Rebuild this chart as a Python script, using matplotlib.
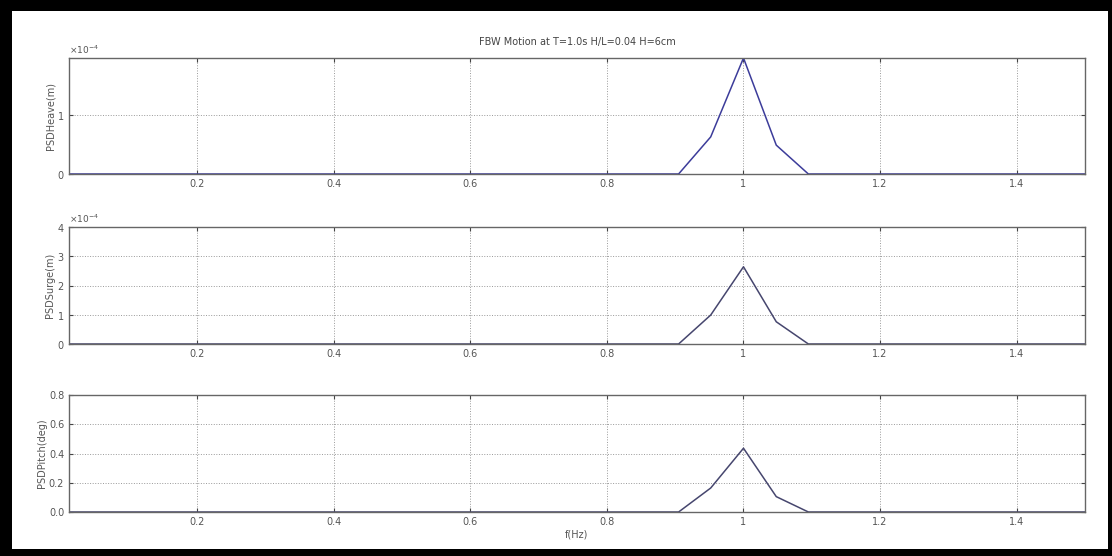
import matplotlib.pyplot as plt
from matplotlib.patches import Rectangle

# frequency points (Hz) and PSD values
freq = [0.0125, 0.905, 0.952, 1.0, 1.048, 1.095, 1.5]
heave = [0, 0, 0.63e-4, 1.97e-4, 0.49e-4, 0, 0]
surge = [0, 0, 0.99e-4, 2.64e-4, 0.76e-4, 0, 0]
pitch = [0, 0, 0.164, 0.436, 0.105, 0, 0]

xticks = [0.2, 0.4, 0.6, 0.8, 1.0, 1.2, 1.4]
xticklabels = ['0.2', '0.4', '0.6', '0.8', '1', '1.2', '1.4']

W, H = 1112, 556
fig = plt.figure(figsize=(W / 100, H / 100), dpi=100, facecolor='black')
# white page inside the black frame
fig.patches.append(Rectangle((12 / W, 7 / H), (1108 - 12) / W, (556 - 7 - 11) / H,
                             transform=fig.transFigure, facecolor='white',
                             edgecolor='none', zorder=-10))

def px_axes(top, bottom):
    return fig.add_axes([69 / W, (H - bottom) / H, (1085 - 69) / W, (bottom - top) / H])

panels = [
    (58, 174, heave, 'PSDHeave(m)', [0, 1e-4], 1.97e-4, '#3c3c9a', True),
    (227, 344, surge, 'PSDSurge(m)', [0, 1e-4, 2e-4, 3e-4, 4e-4], 4e-4, '#46466e', True),
    (395, 512, pitch, 'PSDPitch(deg)', [0, 0.2, 0.4, 0.6, 0.8], 0.8, '#46466e', False),
]

for top, bottom, vals, label, yt, ymax, color, sci in panels:
    ax = px_axes(top, bottom)
    ax.set_zorder(1)
    ax.plot(freq, vals, color=color, lw=1.1)
    ax.set_xlim(0.0125, 1.5)
    ax.set_ylim(0, ymax)
    ax.set_xticks(xticks)
    ax.set_xticklabels(xticklabels)
    ax.set_yticks(yt)
    if sci:
        ax.ticklabel_format(axis='y', style='sci', scilimits=(0, 0), useMathText=True)
        ax.yaxis.get_offset_text().set_fontsize(6.5)
        ax.yaxis.get_offset_text().set_color('#555555')
    ax.grid(True, linestyle=':', color='#999999', lw=0.7)
    ax.tick_params(direction='in', top=True, right=True, labelsize=7,
                   labelcolor='#555555', color='#444444', length=3)
    for s in ax.spines.values():
        s.set_color('#666666')
        s.set_linewidth(1.0)
    ax.set_ylabel(label, fontsize=7, color='#555555', labelpad=1)
    if top == 58:
        ax.set_title('FBW Motion at T=1.0s H/L=0.04 H=6cm', fontsize=7,
                     color='#444444', pad=9)
    if top == 395:
        ax.set_xlabel('f(Hz)', fontsize=7, color='#555555', labelpad=2)

fig.savefig('out.png', dpi=100, facecolor=fig.get_facecolor())
